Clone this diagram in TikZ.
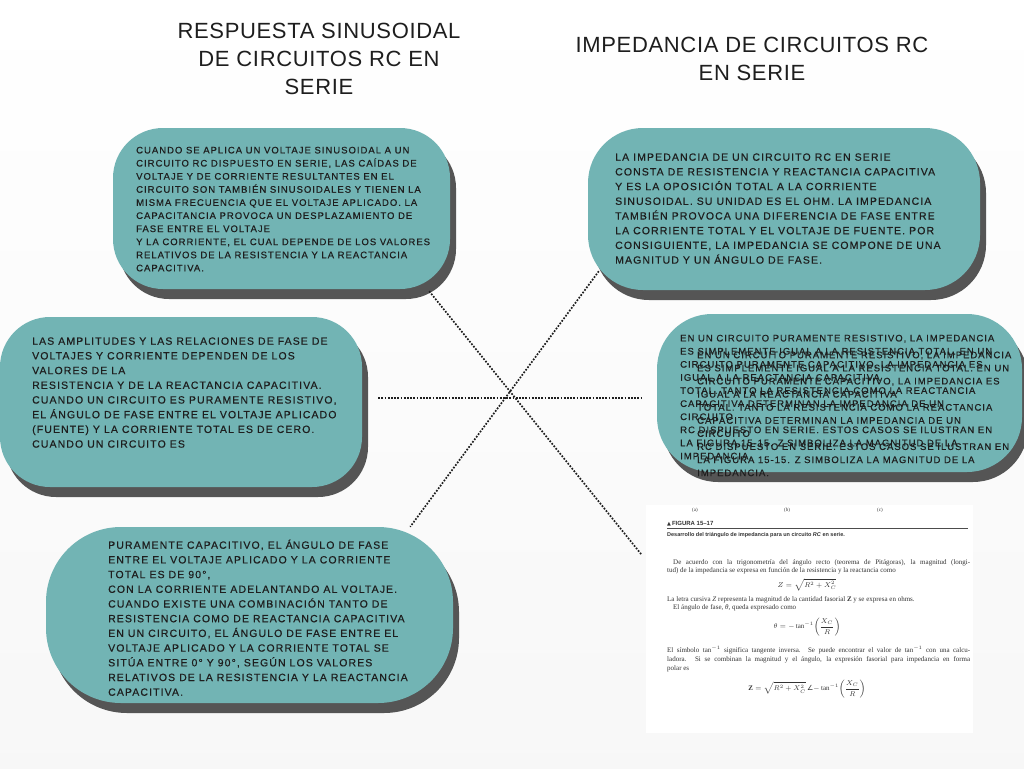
\documentclass[tikz,border=0pt]{standalone}
\usepackage{fontspec}
\setmainfont{Liberation Serif}
\newfontfamily\bodyfont[LetterSpace=10.5,FakeBold=0.5]{Liberation Sans}
\newfontfamily\headfont[LetterSpace=3]{Liberation Sans}
\newfontfamily\imgserif{Liberation Serif}
\newfontfamily\imgsans{Liberation Sans}
\newfontfamily\symfont{DejaVu Sans}
\usetikzlibrary{shadows,calc}
\definecolor{tealbox}{HTML}{72B4B4}
\definecolor{shad}{HTML}{555555}
\definecolor{ink}{HTML}{1E1E1E}
\tikzset{
  blob/.style={fill=tealbox, draw=none, inner sep=0pt,
    general shadow={fill=shad, shadow xshift=6pt, shadow yshift=-10pt}},
  headtxt/.style={align=center, inner sep=0pt, text=ink,
    font=\headfont\fontsize{22}{28}\selectfont},
  smalltxt/.style={anchor=north west, align=left, inner sep=0pt, text=ink,
    font=\bodyfont\fontsize{9.5}{13.1}\selectfont},
  bigtxt/.style={anchor=north west, align=left, inner sep=0pt, text=ink,
    font=\bodyfont\fontsize{10.5}{14.7}\selectfont},
  dotline/.style={draw=ink, line width=1.7pt, dash pattern=on 1.7pt off 1.5pt},
  imgtxt/.style={anchor=base west, inner sep=0pt, text=black!80,
    font=\imgserif\fontsize{7}{8}\selectfont},
  imgmath/.style={anchor=center, inner sep=0pt, text=black!80,
    font=\imgserif\fontsize{7}{8}\selectfont},
}
\begin{document}
\begin{tikzpicture}[x=1pt,y=-1pt]
\useasboundingbox (0,0) rectangle (1024,768);
\shade[top color=white,bottom color=black!3] (0,0) rectangle (1024,768);

% headings
\node[headtxt] (h1) at (319,59) {RESPUESTA SINUSOIDAL\\DE CIRCUITOS RC EN\\SERIE};
\node[headtxt] (h2) at (752,59) {IMPEDANCIA DE CIRCUITOS RC\\EN SERIE};

% boxes
\node[blob, minimum width=337pt, minimum height=161pt, rounded corners=50pt] (b1) at (281.5,208.5) {};
\node[blob, minimum width=392pt, minimum height=162pt, rounded corners=55pt] (b2) at (784,209) {};
\node[blob, minimum width=362pt, minimum height=170pt, rounded corners=50pt] (b3) at (181,402) {};
\node[blob, minimum width=365pt, minimum height=158pt, rounded corners=55pt] (b4) at (839.5,393) {};
\node[blob, minimum width=407pt, minimum height=176pt, rounded corners=75pt] (b5) at (249.5,615) {};

% picture of the textbook page
\node[fill=white, draw=none, inner sep=0pt, minimum width=327pt, minimum height=228pt] (img) at (809.5,619) {};
\node[imgmath, font=\imgserif\fontsize{5}{6}\selectfont] (ia) at (695,510) {(a)};
\node[imgmath, font=\imgserif\fontsize{5}{6}\selectfont] (ib) at (787,510) {(b)};
\node[imgmath, font=\imgserif\fontsize{5}{6}\selectfont] (ic) at (880,510) {(c)};
\node[imgtxt, font=\imgsans\bfseries\fontsize{6}{7}\selectfont] (ifig) at (667,525) {{\symfont\fontsize{5}{6}\selectfont ▲}\,FIGURA 15–17};
\draw[black!70, line width=0.8pt] ($(ifig.south west)+(0,2.2)$) -- ++(301,0);
\node[imgtxt, font=\imgsans\bfseries\fontsize{5.5}{6}\selectfont] (icap) at (667,536) {Desarrollo del triángulo de impedancia para un circuito \textit{RC} en serie.};
\node[imgtxt] (ip1) at (673,564) {\makebox[297pt][s]{De acuerdo con la trigonometría del ángulo recto (teorema de Pitágoras), la magnitud (longi-}};
\node[imgtxt] (ip2) at (667,572.5) {tud) de la impedancia se expresa en función de la resistencia y la reactancia como};
\node[imgmath] (if1) at (807,585) {$Z = \sqrt{R^2 + X_C^2}$};
\node[imgtxt] (ip3) at (667,601.5) {La letra cursiva \textit{Z} representa la magnitud de la cantidad fasorial \textbf{Z} y se expresa en ohms.};
\node[imgtxt] (ip4) at (673,609.5) {El ángulo de fase, \textit{θ}, queda expresado como};
\node[imgmath] (if2) at (807,627) {$\displaystyle\theta = -\tan^{-1}\!\left(\frac{X_C}{R}\right)$};
\node[imgtxt] (ip5) at (667,652.5) {\makebox[303pt][s]{El símbolo tan$^{-1}$ significa tangente inversa. Se puede encontrar el valor de tan$^{-1}$ con una calcu-}};
\node[imgtxt] (ip6) at (667,661.5) {\makebox[303pt][s]{ladora. Si se combinan la magnitud y el ángulo, la expresión fasorial para impedancia en forma}};
\node[imgtxt] (ip7) at (667,670.5) {polar es};
\node[imgmath] (if3) at (807,689) {$\displaystyle\mathbf{Z} = \sqrt{R^2 + X_C^2}\,\mbox{\symfont\fontsize{7}{8}\selectfont ∠}{-\tan^{-1}}\!\left(\frac{X_C}{R}\right)$};

% dotted connectors
\draw[dotline] ($(b1.south east)+(-21,2)$) -- ($(img.west)+(-4,-64)$);
\draw[dotline] ($(b2.south west)+(11,-19)$) -- ($(b5.north east)+(-43,0)$);
\draw[dotline] ($(b3.east)+(16,-4)$) -- ($(b4.west)+(-15,5)$);

% box texts
\node[smalltxt] (t1) at (136,146.6) {CUANDO SE APLICA UN VOLTAJE SINUSOIDAL A UN\\
CIRCUITO RC DISPUESTO EN SERIE, LAS CAÍDAS DE\\
VOLTAJE Y DE CORRIENTE RESULTANTES EN EL\\
CIRCUITO SON TAMBIÉN SINUSOIDALES Y TIENEN LA\\
MISMA FRECUENCIA QUE EL VOLTAJE APLICADO. LA\\
CAPACITANCIA PROVOCA UN DESPLAZAMIENTO DE\\
FASE ENTRE EL VOLTAJE\\
Y LA CORRIENTE, EL CUAL DEPENDE DE LOS VALORES\\
RELATIVOS DE LA RESISTENCIA Y LA REACTANCIA\\
CAPACITIVA.};

\node[bigtxt] (t2) at (615,153.2) {LA IMPEDANCIA DE UN CIRCUITO RC EN SERIE\\
CONSTA DE RESISTENCIA Y REACTANCIA CAPACITIVA\\
Y ES LA OPOSICIÓN TOTAL A LA CORRIENTE\\
SINUSOIDAL. SU UNIDAD ES EL OHM. LA IMPEDANCIA\\
TAMBIÉN PROVOCA UNA DIFERENCIA DE FASE ENTRE\\
LA CORRIENTE TOTAL Y EL VOLTAJE DE FUENTE. POR\\
CONSIGUIENTE, LA IMPEDANCIA SE COMPONE DE UNA\\
MAGNITUD Y UN ÁNGULO DE FASE.};

\node[bigtxt] (t3) at (32,337.2) {LAS AMPLITUDES Y LAS RELACIONES DE FASE DE\\
VOLTAJES Y CORRIENTE DEPENDEN DE LOS\\
VALORES DE LA\\
RESISTENCIA Y DE LA REACTANCIA CAPACITIVA.\\
CUANDO UN CIRCUITO ES PURAMENTE RESISTIVO,\\
EL ÁNGULO DE FASE ENTRE EL VOLTAJE APLICADO\\
(FUENTE) Y LA CORRIENTE TOTAL ES DE CERO.\\
CUANDO UN CIRCUITO ES};

\node[smalltxt] (t4a) at (680,334.6) {EN UN CIRCUITO PURAMENTE RESISTIVO, LA IMPEDANCIA\\
ES SIMPLEMENTE IGUAL A LA RESISTENCIA TOTAL. EN UN\\
CIRCUITO PURAMENTE CAPACITIVO, LA IMPEDANCIA ES\\
IGUAL A LA REACTANCIA CAPACITIVA\\
TOTAL. TANTO LA RESISTENCIA COMO LA REACTANCIA\\
CAPACITIVA DETERMINAN LA IMPEDANCIA DE UN\\
CIRCUITO\\
RC DISPUESTO EN SERIE. ESTOS CASOS SE ILUSTRAN EN\\
LA FIGURA 15-15. Z SIMBOLIZA LA MAGNITUD DE LA\\
IMPEDANCIA.};
\node[smalltxt] (t4b) at (697,351.4) {EN UN CIRCUITO PURAMENTE RESISTIVO, LA IMPEDANCIA\\
ES SIMPLEMENTE IGUAL A LA RESISTENCIA TOTAL. EN UN\\
CIRCUITO PURAMENTE CAPACITIVO, LA IMPEDANCIA ES\\
IGUAL A LA REACTANCIA CAPACITIVA\\
TOTAL. TANTO LA RESISTENCIA COMO LA REACTANCIA\\
CAPACITIVA DETERMINAN LA IMPEDANCIA DE UN\\
CIRCUITO\\
RC DISPUESTO EN SERIE. ESTOS CASOS SE ILUSTRAN EN\\
LA FIGURA 15-15. Z SIMBOLIZA LA MAGNITUD DE LA\\
IMPEDANCIA.};

\node[bigtxt] (t5) at (108,541.2) {PURAMENTE CAPACITIVO, EL \smash{Á}NGULO DE FASE\\
ENTRE EL VOLTAJE APLICADO Y LA CORRIENTE\\
TOTAL ES DE 90°,\\
CON LA CORRIENTE ADELANTANDO AL VOLTAJE.\\
CUANDO EXISTE UNA COMBINACIÓN TANTO DE\\
RESISTENCIA COMO DE REACTANCIA CAPACITIVA\\
EN UN CIRCUITO, EL ÁNGULO DE FASE ENTRE EL\\
VOLTAJE APLICADO Y LA CORRIENTE TOTAL SE\\
SITÚA ENTRE 0° Y 90°, SEGÚN LOS VALORES\\
RELATIVOS DE LA RESISTENCIA Y LA REACTANCIA\\
CAPACITIVA.};
\end{tikzpicture}
\end{document}
